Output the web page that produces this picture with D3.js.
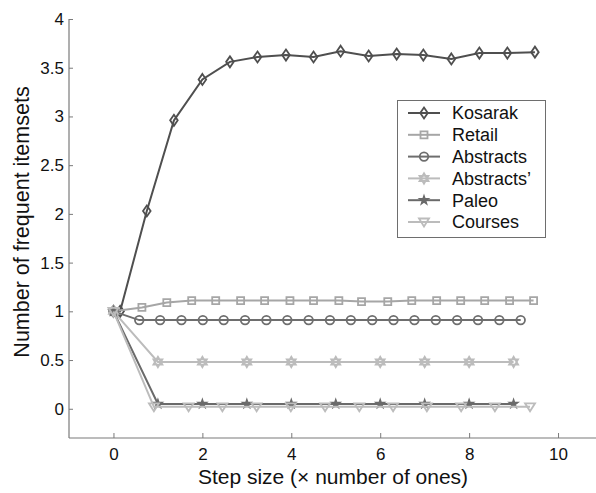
<!DOCTYPE html>
<html><head><meta charset="utf-8">
<script src="https://cdn.jsdelivr.net/npm/d3@7"></script>
<style>html,body{margin:0;padding:0;background:#fff;}svg{display:block;font-family:"Liberation Sans",Arial,sans-serif;}</style>
</head><body><svg id="c" width="596" height="493"></svg>
<script>
const seriesNames = ["Kosarak","Retail","Abstracts","Abstracts\u2019","Paleo","Courses"];
const kosarakX = [0,0.15,0.75,1.36,2.0,2.62,3.24,3.88,4.5,5.11,5.74,6.37,6.97,7.6,8.23,8.86,9.48];
const kosarakY = [1,1.0,2.03,2.96,3.38,3.56,3.61,3.63,3.61,3.67,3.62,3.64,3.63,3.59,3.65,3.65,3.66];
const retailX = [0,0.64,1.2,1.76,2.3,2.86,3.4,3.97,4.5,5.07,5.58,6.17,6.71,7.27,7.81,8.35,8.91,9.45];
const retailY = [1,1.04,1.09,1.11,1.11,1.11,1.11,1.11,1.11,1.11,1.10,1.10,1.11,1.11,1.11,1.11,1.11,1.11];
const abstractsX = [0,0.58,1.05,1.53,2.01,2.48,2.96,3.44,3.91,4.39,4.87,5.34,5.82,6.3,6.77,7.25,7.73,8.2,8.68,9.16];
const abstractsY = [1,0.91,0.91,0.91,0.91,0.91,0.91,0.91,0.91,0.91,0.91,0.91,0.91,0.91,0.91,0.91,0.91,0.91,0.91,0.91];
const abstracts2X = [0,1,2,3,4,5,6,7,8,9];
const abstracts2Y = [1,0.48,0.48,0.48,0.48,0.48,0.48,0.48,0.48,0.48];
const paleoX = [0,1,2,3,4,5,6,7,8,9];
const paleoY = [1,0.05,0.05,0.05,0.05,0.05,0.05,0.05,0.05,0.05];
const coursesX = [0,0.91,1.69,2.45,3.22,3.99,4.76,5.53,6.29,7.05,7.82,8.58,9.37];
const coursesY = [1,0.02,0.02,0.02,0.02,0.02,0.02,0.02,0.02,0.02,0.02,0.02,0.02];
const xTicks = [0,2,4,6,8,10];
const yTicks = [0,0.5,1,1.5,2,2.5,3,3.5,4];
const yTickLabels = ["0","0.5","1","1.5","2","2.5","3","3.5","4"];

const colors = ["#4f4f4f","#a6a6a6","#6e6e6e","#bcbcbc","#6a6a6a","#bcbcbc"];
const markers = ["diamond","square","circle","hexagram","pentagram","triangleDown"];
const allX = [kosarakX,retailX,abstractsX,abstracts2X,paleoX,coursesX];
const allY = [kosarakY,retailY,abstractsY,abstracts2Y,paleoY,coursesY];

const svg = d3.select("#c");
const x = d3.scaleLinear().domain([-1,11]).range([69,602.5]);
const y = d3.scaleLinear().domain([-0.3,4]).range([438,19]);
const axisColor = "#7a7a7a";

const gx = svg.append("g").attr("transform","translate(0,438)")
  .call(d3.axisBottom(x).tickValues(xTicks).tickSize(-5).tickPadding(10).tickFormat(d3.format("d")));
const gy = svg.append("g").attr("transform","translate(69,0)")
  .call(d3.axisLeft(y).tickValues(yTicks).tickSize(-4).tickPadding(5).tickFormat((d,i)=>yTickLabels[i]));
[gx,gy].forEach(g=>{
  g.select(".domain").attr("stroke",axisColor).attr("stroke-width",1.2);
  g.selectAll(".tick line").attr("stroke",axisColor);
  g.selectAll(".tick text").attr("fill","#111").style("font-size","17px").style("font-family","'Liberation Sans',Arial,sans-serif");
});
gx.select(".domain").attr("d", `M${x(-1)},0H${x(11)}`);
gy.select(".domain").attr("d", `M0,${y(-0.3)}V${y(4)}`);

svg.append("text").attr("x",333).attr("y",484).attr("text-anchor","middle")
  .style("font-size","21px").attr("fill","#111").text("Step size (\u00d7 number of ones)");
svg.append("text").attr("transform","translate(29,222) rotate(-90)").attr("text-anchor","middle")
  .style("font-size","21.5px").attr("fill","#111").text("Number of frequent itemsets");

function markerPath(type){
  switch(type){
    case "diamond": return "M0,-5.5L3.8,0L0,5.5L-3.8,0Z";
    case "square": return "M-3.5,-3.5H3.5V3.5H-3.5Z";
    case "circle": return d3.symbol(d3.symbolCircle, Math.PI*4.3*4.3)();
    case "triangleDown": return "M-5,-3.5L5,-3.5L0,4.5Z";
    case "hexagram": {
      const r=5.2; let p="";
      for(let t=0;t<2;t++){
        const pts=[0,1,2].map(k=>{const a=-Math.PI/2+t*Math.PI/3+k*2*Math.PI/3;return [r*Math.cos(a),r*Math.sin(a)];});
        p+="M"+pts.map(q=>q[0].toFixed(2)+","+q[1].toFixed(2)).join("L")+"Z";
      }
      return p;
    }
    case "pentagram": return d3.symbol(d3.symbolStar, 26)();
  }
}

const line = d3.line().x(d=>x(d[0])).y(d=>y(d[1]));
allX.forEach((xs,i)=>{
  const pts = xs.map((v,j)=>[v,allY[i][j]]);
  const g = svg.append("g");
  g.append("path").attr("d",line(pts)).attr("fill","none").attr("stroke",colors[i]).attr("stroke-width",2);
  g.selectAll("path.m").data(pts).enter().append("path").attr("class","m")
    .attr("transform",d=>`translate(${x(d[0])},${y(d[1])})`)
    .attr("d",markerPath(markers[i]))
    .attr("fill", markers[i]==="pentagram" ? colors[i] : "none")
    .attr("stroke",colors[i]).attr("stroke-width",markers[i]==="pentagram"?1.2:1.8);
});

const lg = svg.append("g");
lg.append("rect").attr("x",397.5).attr("y",100.5).attr("width",148).attr("height",137)
  .attr("fill","#fff").attr("stroke","#6e6e6e").attr("stroke-width",1);
seriesNames.forEach((n,i)=>{
  const yy = 113 + i*21.8;
  lg.append("line").attr("x1",408).attr("x2",440).attr("y1",yy).attr("y2",yy)
    .attr("stroke",colors[i]).attr("stroke-width",2);
  lg.append("path").attr("transform",`translate(424,${yy})`).attr("d",markerPath(markers[i]))
    .attr("fill", markers[i]==="pentagram" ? colors[i] : "none")
    .attr("stroke",colors[i]).attr("stroke-width",markers[i]==="pentagram"?1.2:1.8);
  lg.append("text").attr("x",452).attr("y",yy).attr("dy","0.36em")
    .style("font-size","18px").attr("fill","#111").text(n);
});
</script></body></html>
